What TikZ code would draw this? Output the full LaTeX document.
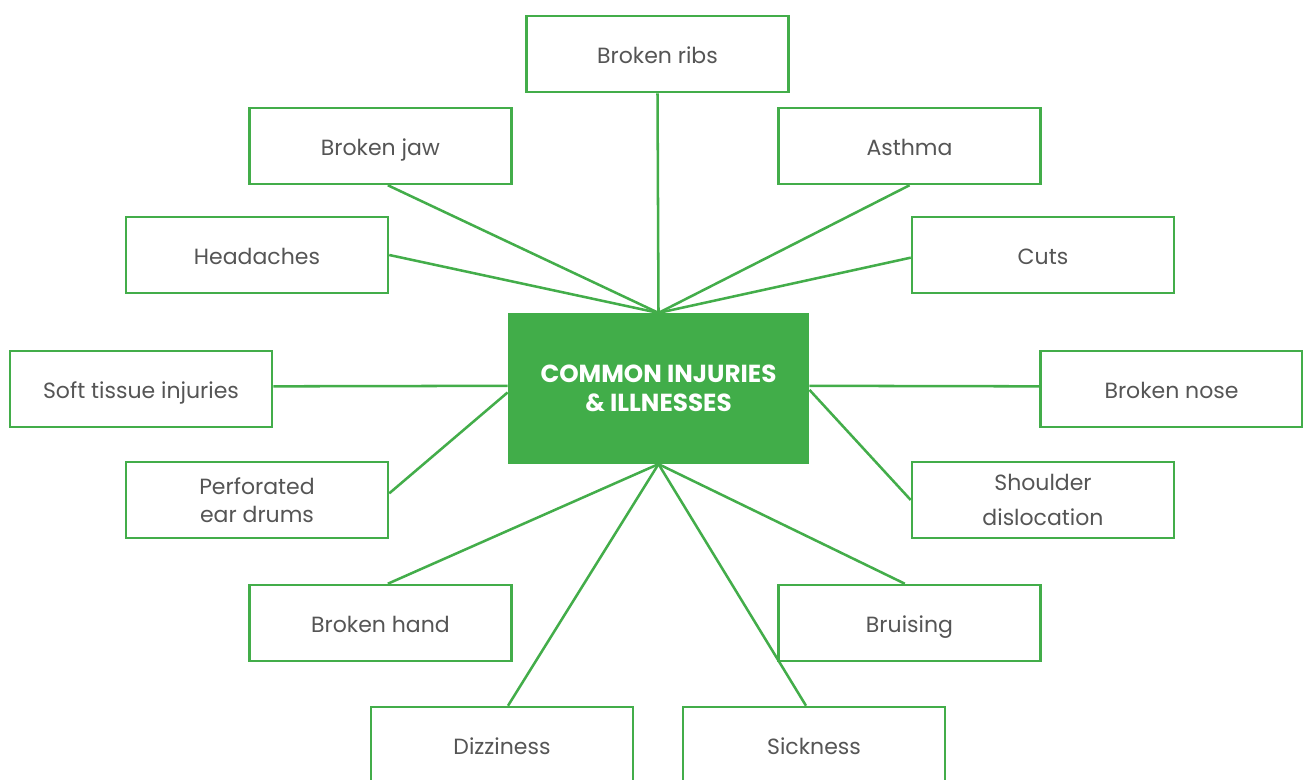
\documentclass[tikz,border=0pt]{standalone}
\usepackage{fontspec}
\setmainfont{Poppins}
\definecolor{lgreen}{HTML}{43AD4A}
\definecolor{fillgreen}{HTML}{41AD49}
\definecolor{txtgray}{HTML}{555555}
\begin{document}
\begin{tikzpicture}[x=0.75pt,y=-0.75pt,
  box/.style={draw=lgreen,line width=1.9pt,fill=white,minimum width=196.5pt,minimum height=57pt,inner sep=0pt,align=center,text=txtgray,font=\fontsize{16.5}{21}\selectfont},
  one/.style={box,text height=15pt,text depth=0.5pt},
  hub/.style={fill=fillgreen,minimum width=226pt,minimum height=113pt,inner sep=0pt,align=center,text=white,font=\bfseries\fontsize{18.5}{22}\selectfont},
  link/.style={draw=lgreen,line width=1.9pt}]
\useasboundingbox (0,0) rectangle (1303,780);
\node[hub] (c) at (658.5,388.5) {COMMON INJURIES\\\& ILLNESSES};
\node[one] (ribs) at (657.5,54) {Broken ribs};
\node[one] (jaw) at (380.5,146) {Broken jaw};
\node[one] (asthma) at (909.5,146) {Asthma};
\node[one] (head) at (257,255) {Headaches};
\node[one] (cuts) at (1043,255) {Cuts};
\node[one] (soft) at (141,389) {Soft tissue injuries};
\node[one] (nose) at (1171.5,389) {Broken nose};
\node[box] (ear) at (257,500) {Perforated\\ear drums};
\node[box] (shoulder) at (1043,500) {Shoulder\\[5pt]dislocation};
\node[one] (hand) at (380.5,623) {Broken hand};
\node[one] (bruise) at (909.5,623) {Bruising};
\node[one] (dizzy) at (502,745) {Dizziness};
\node[one] (sick) at (814,745) {Sickness};
\draw[link] (ribs.south) -- (c.north);
\draw[link] ([xshift=5.5pt]jaw.south) -- (c.north);
\draw[link] (head.east) -- (c.north);
\draw[link] (asthma.south) -- (c.north);
\draw[link] ([yshift=-2pt]cuts.west) -- (c.north);
\draw[link] ([yshift=2pt]soft.east) -- ([yshift=2pt]c.west);
\draw[link] ([yshift=2pt]nose.west) -- ([yshift=2pt]c.east);
\draw[link] ([yshift=5pt]ear.east) -- ([yshift=-3pt]c.west);
\draw[link] (shoulder.west) -- ([yshift=-1pt]c.east);
\draw[link] ([xshift=5.5pt]hand.north) -- (c.south);
\draw[link] ([xshift=-3.5pt]bruise.north) -- (c.south);
\draw[link] ([xshift=4.5pt]dizzy.north) -- (c.south);
\draw[link] ([xshift=-6pt]sick.north) -- (c.south);
\end{tikzpicture}
\end{document}
